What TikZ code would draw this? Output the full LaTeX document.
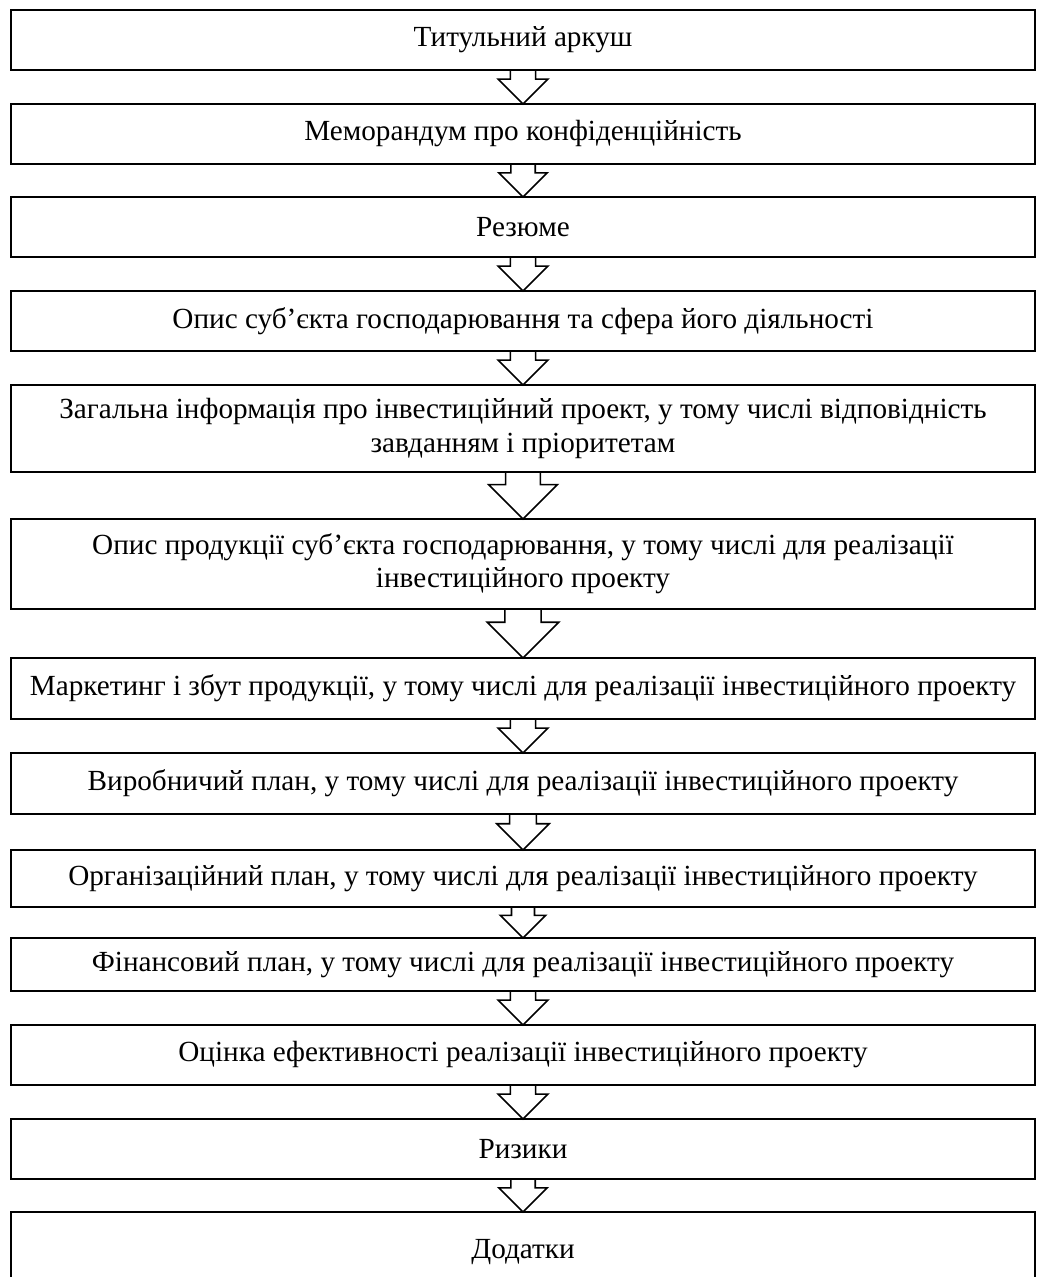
\documentclass[tikz,border=0pt]{standalone}
\usepackage{fontspec}
\setmainfont{Liberation Serif}
\usetikzlibrary{positioning,calc}

\begin{document}
\begin{tikzpicture}[node distance=17pt]
  \tikzstyle{block}=[draw, line width=0.9pt, outer sep=0pt, minimum width=512pt, minimum height=30pt,
    inner sep=2pt, align=center, font=\fontsize{14.6pt}{16.6pt}\selectfont]
  \tikzstyle{hollow}=[draw, line width=0.8pt, line join=miter]

  \useasboundingbox (0,0) rectangle (518.5pt,-638.5pt);

  \node[block] (title) at (261.5pt,-20pt) {Титульний аркуш};
  \node[block] (memo) [below=of title] {Меморандум про конфіденційність};
  \node[block] (summary) [below=16.5pt of memo] {Резюме};
  \node[block] (company) [below=of summary] {Опис суб’єкта господарювання та сфера його діяльності};
  \node[block, minimum height=43.5pt] (general) [below=of company]
    {Загальна інформація про інвестиційний проект, у тому числі відповідність\\ завданням і пріоритетам};
  \node[block, minimum height=45pt] (product) [below=23.5pt of general]
    {Опис продукції суб’єкта господарювання, у тому числі для реалізації\\ інвестиційного проекту};
  \node[block, minimum height=30.5pt] (marketing) [below=24.5pt of product]
    {Маркетинг і збут продукції, у тому числі для реалізації інвестиційного проекту};
  \node[block, minimum height=30.5pt] (production) [below=of marketing]
    {Виробничий план, у тому числі для реалізації інвестиційного проекту};
  \node[block, minimum height=28.5pt] (organization) [below=18pt of production]
    {Організаційний план, у тому числі для реалізації інвестиційного проекту};
  \node[block, minimum height=26.5pt] (finance) [below=15.5pt of organization]
    {Фінансовий план, у тому числі для реалізації інвестиційного проекту};
  \node[block] (efficiency) [below=of finance] {Оцінка ефективності реалізації інвестиційного проекту};
  \node[block] (risks) [below=of efficiency] {Ризики};
  \node[block, minimum height=40pt] (appendix) [below=16.5pt of risks] {Додатки};

  % hollow block arrows between the boxes
  \foreach \a/\b in {title/memo, memo/summary, summary/company, company/general,
      general/product, product/marketing, marketing/production, production/organization,
      organization/finance, finance/efficiency, efficiency/risks, risks/appendix}
    \draw[hollow] let \p1=(\a.south), \p2=(\b.north), \n1={\y1-\y2} in
      (\x1-0.37*\n1,\y1) -- (\x1-0.37*\n1,\y1-0.27*\n1) -- (\x1-0.73*\n1,\y1-0.27*\n1)
      -- (\x2,\y2) -- (\x1+0.73*\n1,\y1-0.27*\n1) -- (\x1+0.37*\n1,\y1-0.27*\n1)
      -- (\x1+0.37*\n1,\y1);
\end{tikzpicture}
\end{document}
